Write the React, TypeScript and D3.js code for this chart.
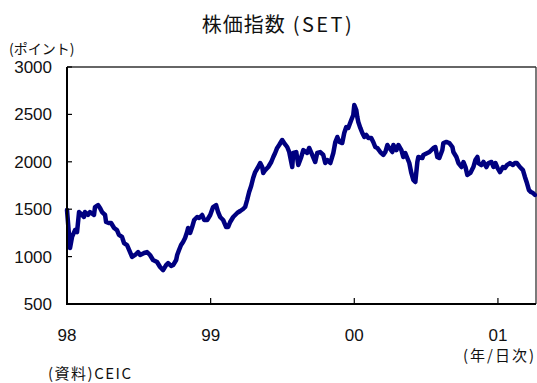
import React from "react";
import * as d3 from "d3";

// SET index, decimal year vs. index level (points)
const years: number[] = [
  1998.0, 1998.014, 1998.021, 1998.035, 1998.056, 1998.07, 1998.084, 1998.105, 1998.118, 1998.125,
  1998.146, 1998.16, 1998.188, 1998.195, 1998.216, 1998.23, 1998.244, 1998.265, 1998.272, 1998.293,
  1998.307, 1998.328, 1998.348, 1998.362, 1998.383, 1998.397, 1998.418, 1998.439, 1998.453, 1998.474,
  1998.495, 1998.509, 1998.537, 1998.557, 1998.578, 1998.599, 1998.627, 1998.648, 1998.669, 1998.69,
  1998.704, 1998.725, 1998.739, 1998.76, 1998.767, 1998.78, 1998.794, 1998.808, 1998.822, 1998.836,
  1998.843, 1998.857, 1998.871, 1998.885, 1998.906, 1998.92, 1998.941, 1998.955, 1998.976, 1998.997,
  1999.017, 1999.038, 1999.052, 1999.066, 1999.087, 1999.108, 1999.122, 1999.136, 1999.157, 1999.185,
  1999.206, 1999.226, 1999.24, 1999.254, 1999.268, 1999.282, 1999.296, 1999.31, 1999.331, 1999.345,
  1999.359, 1999.366, 1999.38, 1999.401, 1999.422, 1999.436, 1999.449, 1999.463, 1999.477, 1999.498,
  1999.512, 1999.533, 1999.547, 1999.568, 1999.575, 1999.596, 1999.61, 1999.631, 1999.645, 1999.672,
  1999.686, 1999.707, 1999.728, 1999.742, 1999.763, 1999.784, 1999.798, 1999.812, 1999.833, 1999.854,
  1999.868, 1999.882, 1999.896, 1999.916, 1999.93, 1999.944, 1999.958, 1999.979, 1999.993, 2000.0,
  2000.014, 2000.021, 2000.028, 2000.042, 2000.056, 2000.07, 2000.084, 2000.098, 2000.118, 2000.132,
  2000.146, 2000.16, 2000.181, 2000.202, 2000.216, 2000.23, 2000.244, 2000.265, 2000.272, 2000.293,
  2000.307, 2000.328, 2000.341, 2000.355, 2000.369, 2000.383, 2000.397, 2000.411, 2000.425, 2000.439,
  2000.446, 2000.474, 2000.481, 2000.509, 2000.523, 2000.551, 2000.564, 2000.578, 2000.592, 2000.613,
  2000.62, 2000.641, 2000.662, 2000.683, 2000.69, 2000.711, 2000.725, 2000.746, 2000.76, 2000.774,
  2000.787, 2000.808, 2000.829, 2000.843, 2000.857, 2000.864, 2000.885, 2000.899, 2000.92, 2000.934,
  2000.955, 2000.969, 2000.983, 2000.997, 2001.014, 2001.035, 2001.049, 2001.063, 2001.084, 2001.105,
  2001.118, 2001.132, 2001.153, 2001.174, 2001.188, 2001.202, 2001.216, 2001.23, 2001.244, 2001.258,
];

const indexValues: number[] = [
  1491, 1228, 1091, 1207, 1280, 1259, 1470, 1439, 1418, 1470,
  1439, 1470, 1439, 1523, 1544, 1513, 1470, 1439, 1365, 1354,
  1354, 1302, 1280, 1228, 1207, 1143, 1122, 1048, 996, 1017,
  1048, 1017, 1038, 1048, 1017, 964, 943, 890, 858, 911,
  932, 901, 911, 964, 1017, 1069, 1122, 1154, 1196, 1259,
  1302, 1249, 1312, 1386, 1418, 1407, 1439, 1386, 1386, 1439,
  1523, 1544, 1470, 1418, 1386, 1312, 1312, 1365, 1418, 1460,
  1481, 1502, 1523, 1597, 1681, 1745, 1829, 1892, 1945, 1987,
  1945, 1882, 1913, 1945, 1998, 2051, 2093, 2146, 2177, 2230,
  2198, 2156, 2103, 1945, 2093, 2103, 1966, 2051, 2124, 2093,
  2146, 2072, 1998, 2093, 2103, 2072, 1987, 2019, 1987, 2093,
  2209, 2262, 2209, 2198, 2304, 2367, 2357, 2441, 2494, 2599,
  2546, 2473, 2420, 2357, 2304, 2262, 2283, 2251, 2251, 2209,
  2156, 2146, 2103, 2072, 2103, 2177, 2146, 2103, 2177, 2124,
  2177, 2124, 2051, 2093, 2040, 1987, 1882, 1808, 1787, 1998,
  2051, 2040, 2072, 2093, 2103, 2146, 2156, 2051, 2040, 2124,
  2198, 2209, 2198, 2156, 2103, 2051, 1987, 1945, 1998, 1945,
  1861, 1882, 1945, 2019, 2051, 1987, 1966, 1998, 1945, 1987,
  1998, 1945, 1987, 1935, 1892, 1945, 1935, 1966, 1987, 1966,
  1987, 1987, 1945, 1913, 1840, 1776, 1702, 1681, 1671, 1650,
];

const yTicks: number[] = [500, 1000, 1500, 2000, 2500, 3000];
const xTicks: number[] = [1998, 1999, 2000, 2001];
const xTickLabels: string[] = ["98", "99", "00", "01"];

const W = 537;
const H = 383;
const M = { left: 67, right: 536, top: 67, bottom: 304 };

const SANS = "'Liberation Sans', Arial, sans-serif";
const JP = "'Noto Sans CJK JP', 'Liberation Sans', sans-serif";

export default function App() {
  const x = d3.scaleLinear().domain([1998, 2001.265]).range([M.left, M.right]);
  const y = d3.scaleLinear().domain([500, 3000]).range([M.bottom, M.top]);

  const series = years.map((t, i) => ({ t, v: indexValues[i] }));
  const line = d3
    .line<{ t: number; v: number }>()
    .x((d) => x(d.t))
    .y((d) => y(d.v))
    .curve(d3.curveLinear);

  return (
    <svg
      width={W}
      height={H}
      style={{ position: "absolute", left: 0, top: 0, background: "#fff" }}
    >
      <text x={278} y={32} textAnchor="middle" fontFamily={JP} fontSize={20} fill="#111">
        <tspan letterSpacing={1}>株価指数</tspan>
        <tspan letterSpacing={2.5}> (SET)</tspan>
      </text>
      <text x={9} y={54} fontFamily={JP} fontSize={14} fill="#111">
        (ポイント)
      </text>

      {/* frame: thin top and right, heavy axes on left and bottom */}
      <line x1={M.left} x2={M.right} y1={M.top} y2={M.top} stroke="#333" strokeWidth={1.3} />
      <line x1={M.right} x2={M.right} y1={M.top} y2={M.bottom} stroke="#333" strokeWidth={1.3} />

      <path d={line(series) ?? ""} fill="none" stroke="#000080" strokeWidth={4.5} strokeLinejoin="round" strokeLinecap="round" />

      <line x1={M.left} x2={M.left} y1={M.top} y2={M.bottom + 1} stroke="#000" strokeWidth={2} />
      <line x1={M.left - 1} x2={M.right} y1={M.bottom} y2={M.bottom} stroke="#000" strokeWidth={2} />

      {yTicks.map((v) => (
        <g key={v}>
          <line x1={M.left} x2={M.left + 5} y1={y(v)} y2={y(v)} stroke="#000" strokeWidth={1.2} />
          <text x={52} y={y(v) + 6} textAnchor="end" fontFamily={SANS} fontSize={17} fill="#111">
            {v}
          </text>
        </g>
      ))}

      {xTicks.map((t, i) => (
        <g key={t}>
          {i > 0 && (
            <line x1={x(t)} x2={x(t)} y1={M.bottom} y2={M.bottom - 6} stroke="#000" strokeWidth={1.2} />
          )}
          <text x={x(t)} y={341} textAnchor="middle" fontFamily={SANS} fontSize={17} fill="#111">
            {xTickLabels[i]}
          </text>
        </g>
      ))}

      <text x={536} y={361} textAnchor="end" fontFamily={JP} fontSize={15} letterSpacing={2} fill="#111">
        (年/日次)
      </text>
      <text x={48} y={379} fontFamily={JP} fontSize={15} letterSpacing={1.5} fill="#111">
        (資料)CEIC
      </text>
    </svg>
  );
}
